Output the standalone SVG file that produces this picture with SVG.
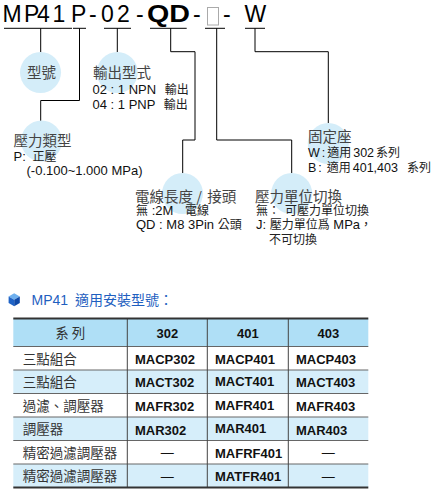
<svg xmlns="http://www.w3.org/2000/svg" width="440" height="502" viewBox="0 0 440 502">
<style>
.dot{fill:#d4edf9}
.ln{stroke:#000;stroke-width:1;fill:none}
.h{font-family:"Noto Sans CJK TC","Liberation Sans",sans-serif;font-size:14.5px;fill:#444}
.s{font-family:"Liberation Sans","Noto Sans CJK TC",sans-serif;font-size:13px;fill:#111}
.c{font-family:"Noto Sans CJK TC","Liberation Sans",sans-serif;font-size:12px;fill:#222}
.m{font-family:"Liberation Sans","Noto Sans CJK TC",sans-serif;font-size:12.5px;fill:#111;word-spacing:-1.5px}
.t{font-family:"Liberation Sans",sans-serif;font-size:23px;fill:#000}
.tb{font-family:"Liberation Sans",sans-serif;font-size:13px;font-weight:bold;fill:#111}
.tl{font-family:"Noto Sans CJK TC",sans-serif;font-size:13.5px;fill:#333}
.sep{stroke:#666;stroke-width:1}
.col{stroke:#444;stroke-width:1}
.edge{stroke:#333;stroke-width:2}
.blue{fill:#d6eefa}
</style>
<rect width="440" height="502" fill="#fff"/>

<g id="title">
<text class="t" y="21.7"><tspan x="2.5">M</tspan><tspan x="24">P</tspan><tspan x="37">4</tspan><tspan x="52.5">1</tspan><tspan x="71">P</tspan><tspan x="89">-</tspan><tspan x="101">0</tspan><tspan x="117">2</tspan><tspan x="136">-</tspan><tspan x="147" font-weight="bold" textLength="43" lengthAdjust="spacingAndGlyphs">QD</tspan><tspan x="193">-</tspan><tspan x="223">-</tspan><tspan x="244.5">W</tspan></text>
<rect x="207.5" y="7.5" width="11" height="17.5" fill="#fff" stroke="#aaa" stroke-width="1"/>
<g class="ln">
<line x1="4" y1="28.3" x2="72" y2="28.3"/>
<line x1="73" y1="28.3" x2="86" y2="28.3"/>
<line x1="104" y1="28.3" x2="131" y2="28.3"/>
<line x1="150" y1="28.3" x2="186.7" y2="28.3"/>
<line x1="205" y1="28.3" x2="225" y2="28.3"/>
<line x1="245" y1="28.3" x2="265" y2="28.3"/>
</g>
</g>

<g id="connectors" class="ln">
<path d="M40.7 28.3V52.5"/>
<path d="M79.5 28.3V100.5H40.7V121"/>
<path d="M117.3 28.3V52.5"/>
<path d="M170.7 28.3V51.7H195V140H182.7V173"/>
<path d="M216.7 28.3V140H291.7V173"/>
<path d="M255 28.3V51.7H328.3V123"/>
</g>

<g id="node-model">
<circle class="dot" cx="40.5" cy="72.5" r="20.5"/>
<text class="h" x="27" y="77.5">型號</text>
</g>

<g id="node-output">
<circle class="dot" cx="117.3" cy="72.5" r="20.5"/>
<text class="h" x="93" y="78">輸出型式</text>
<text class="s" x="92.5" y="94">02 : 1 NPN <tspan class="c" dx="5">輸出</tspan></text>
<text class="s" x="92.5" y="108.5">04 : 1 PNP <tspan class="c" dx="5">輸出</tspan></text>
</g>

<g id="node-pressure-type">
<circle class="dot" cx="41.5" cy="141" r="20.5"/>
<text class="h" x="13.5" y="146">壓力類型</text>
<text class="s" x="13.5" y="161">P: <tspan class="c" dx="3">正壓</tspan></text>
<text class="s" x="26.5" y="175">(-0.100~1.000 MPa)</text>
</g>

<g id="node-cable">
<circle class="dot" cx="182.5" cy="193.5" r="20.5"/>
<text class="h" x="135" y="201.5">電線長度 / <tspan dx="2">接頭</tspan></text>
<text class="s" x="136" y="215"><tspan class="c">無</tspan> :2M <tspan class="c" dx="8">電線</tspan></text>
<text class="s" x="136" y="229.3">QD : M8 3Pin <tspan class="c">公頭</tspan></text>
</g>

<g id="node-unit">
<circle class="dot" cx="291.7" cy="193.5" r="20.5"/>
<text class="h" x="255" y="201.5">壓力單位切換</text>
<text class="c" x="256" y="215">無： <tspan dx="2.3">可壓力單位切換</tspan></text>
<text class="s" x="256" y="229.3">J: <tspan class="c">壓力單位爲</tspan> MPa<tspan class="c">，</tspan></text>
<text class="c" x="269" y="244">不可切換</text>
</g>

<g id="node-mount">
<circle class="dot" cx="328.3" cy="143.5" r="20.5"/>
<text class="h" x="308" y="141.5">固定座</text>
<text class="m" x="308" y="156.5">W : <tspan class="c" font-size="11.5">適用</tspan> 302 <tspan class="c" font-size="11.5">系列</tspan></text>
<text class="m" x="308" y="172">B : <tspan class="c" font-size="11.5" dx="3">適用</tspan> 401,403 <tspan class="c" font-size="11.5" dx="7">系列</tspan></text>
</g>

<g id="heading">
<polygon points="14.2,293.3 19.8,296.6 14.2,299.8 8.6,296.6" fill="#6fb0ee"/>
<polygon points="8.6,296.6 14.2,299.8 14.2,306.3 8.6,303.1" fill="#1f63c6"/>
<polygon points="14.2,299.8 19.8,296.6 19.8,303.1 14.2,306.3" fill="#0f49a8"/>
<text x="31.5" y="305" font-family="Liberation Sans, 'Noto Sans CJK TC', sans-serif" font-size="14" fill="#1f5fbf">MP41 <tspan dx="3" font-family="'Noto Sans CJK TC', sans-serif">適用安裝型號：</tspan></text>
</g>

<g id="table">
<rect x="13.3" y="318.5" width="355" height="28" fill="#afdff6"/>
<rect class="blue" x="13.3" y="370" width="355" height="23.5"/>
<rect class="blue" x="13.3" y="417" width="355" height="23.5"/>
<rect class="blue" x="13.3" y="464" width="355" height="23.5"/>
<g class="sep">
<line x1="13.3" y1="346.5" x2="368.3" y2="346.5"/>
<line x1="13.3" y1="370" x2="368.3" y2="370"/>
<line x1="13.3" y1="393.5" x2="368.3" y2="393.5"/>
<line x1="13.3" y1="417" x2="368.3" y2="417"/>
<line x1="13.3" y1="440.5" x2="368.3" y2="440.5"/>
<line x1="13.3" y1="464" x2="368.3" y2="464"/>
</g>
<g class="col">
<line x1="127.3" y1="318.5" x2="127.3" y2="487.5"/>
<line x1="207.3" y1="318.5" x2="207.3" y2="487.5"/>
<line x1="288.3" y1="318.5" x2="288.3" y2="487.5"/>
</g>
<line class="edge" x1="13.3" y1="318.5" x2="368.3" y2="318.5"/>
<line class="edge" x1="13.3" y1="487.5" x2="368.3" y2="487.5"/>

<text class="tl" x="70.3" y="337.5" text-anchor="middle" font-size="14.5">系 列</text>
<text class="tb" x="167.3" y="337.5" text-anchor="middle" font-size="13.5">302</text>
<text class="tb" x="247.8" y="337.5" text-anchor="middle" font-size="13.5">401</text>
<text class="tb" x="328.3" y="337.5" text-anchor="middle" font-size="13.5">403</text>

<text class="tl" x="22.7" y="363.5">三點組合</text>
<text class="tb" x="135" y="363.5">MACP302</text>
<text class="tb" x="215" y="363.5">MACP401</text>
<text class="tb" x="296" y="363.5">MACP403</text>

<text class="tl" x="22.7" y="387">三點組合</text>
<text class="tb" x="135" y="387">MACT302</text>
<text class="tb" x="215" y="386">MACT401</text>
<text class="tb" x="296" y="387">MACT403</text>

<text class="tl" x="22.7" y="410.5">過濾、調壓器</text>
<text class="tb" x="135" y="411">MAFR302</text>
<text class="tb" x="215" y="410">MAFR401</text>
<text class="tb" x="296" y="411">MAFR403</text>

<text class="tl" x="22.7" y="434">調壓器</text>
<text class="tb" x="135" y="435">MAR302</text>
<text class="tb" x="215" y="433">MAR401</text>
<text class="tb" x="296" y="435">MAR403</text>

<text class="tl" x="22.7" y="457.5">精密過濾調壓器</text>
<text class="s" x="167.3" y="457" text-anchor="middle">—</text>
<text class="tb" x="215" y="457.5">MAFRF401</text>
<text class="s" x="328.3" y="457" text-anchor="middle">—</text>

<text class="tl" x="22.7" y="481">精密過濾調壓器</text>
<text class="s" x="167.3" y="480.5" text-anchor="middle">—</text>
<text class="tb" x="215" y="481">MATFR401</text>
<text class="s" x="328.3" y="480.5" text-anchor="middle">—</text>
</g>
</svg>
